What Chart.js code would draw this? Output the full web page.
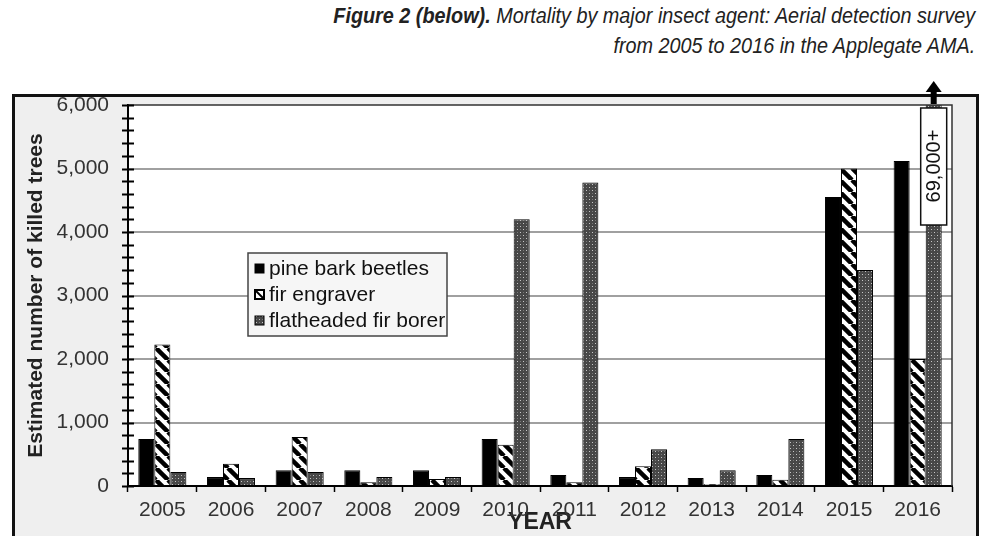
<!DOCTYPE html>
<html lang="en">
<head>
<meta charset="UTF-8" />
<title>Mortality by major insect agent</title>
<script src="https://cdn.jsdelivr.net/npm/chart.js@4.4.0/dist/chart.umd.min.js"></script>
<style>
  body { margin: 0; width: 1005px; height: 536px; overflow: hidden; position: relative; background: #fff; }
  #caption { position: absolute; right: 30px; top: 1px; text-align: right; color: #222;
    font-family: "Liberation Sans", sans-serif; font-style: italic;
    font-size: 22px; line-height: 30px; transform: scaleX(0.9); transform-origin: right top; }
  #caption b { font-weight: bold; }
  #frame { position: absolute; left: 12px; top: 94px; width: 961px; height: 460px;
    border: 3px solid #111; background: #efefef; }
  #chart { position: absolute; left: 0; top: 0; }
</style>
</head>
<body>
<div id="caption"><b>Figure 2 (below).</b> Mortality by major insect agent: Aerial detection survey<br>from 2005 to 2016 in the Applegate AMA.</div>
<div id="frame"></div>
<canvas id="chart" width="1005" height="536"></canvas>
<script>
const years = ['2005','2006','2007','2008','2009','2010','2011','2012','2013','2014','2015','2016'];
const pineBarkBeetles = [740, 140, 250, 250, 250, 740, 175, 140, 125, 175, 4550, 5120];
const firEngraver     = [2230, 350, 770, 60, 110, 650, 60, 310, 30, 100, 5000, 2000];
const flatheadedBorer = [220, 125, 220, 140, 140, 4200, 4780, 580, 250, 740, 3400, 69000];
const seriesNames = ['pine bark beetles', 'fir engraver', 'flatheaded fir borer'];

// fill patterns
function hatch() {
  const c = document.createElement('canvas');
  c.width = 12; c.height = 12;
  const g = c.getContext('2d');
  g.fillStyle = '#fff'; g.fillRect(0, 0, 12, 12);
  g.strokeStyle = '#000'; g.lineWidth = 4.5;
  for (let k = -12; k <= 24; k += 12) {
    g.beginPath(); g.moveTo(k, 0); g.lineTo(k + 12, 12); g.stroke();
  }
  return g.createPattern(c, 'repeat');
}
function stipple() {
  const c = document.createElement('canvas');
  c.width = 6; c.height = 6;
  const g = c.getContext('2d');
  g.fillStyle = '#474747'; g.fillRect(0, 0, 6, 6);
  g.fillStyle = '#c8c8c8'; g.fillRect(1, 1, 1, 1); g.fillRect(4, 4, 1, 1);
  g.fillStyle = '#777'; g.fillRect(4, 1, 1, 1); g.fillRect(1, 4, 1, 1);
  return g.createPattern(c, 'repeat');
}
const fills = ['#000', hatch(), stipple()];

const plotDeco = {
  id: 'plotDeco',
  beforeDraw(chart) {
    const a = chart.chartArea, ctx = chart.ctx;
    ctx.save();
    ctx.fillStyle = '#fff';
    ctx.fillRect(a.left, a.top, a.right - a.left, a.bottom - a.top);
    ctx.restore();
  },
  afterDraw(chart) {
    const a = chart.chartArea, ctx = chart.ctx, y = chart.scales.y;
    ctx.save();
    // top and right border of the plot
    ctx.strokeStyle = '#333'; ctx.lineWidth = 1.5;
    ctx.beginPath(); ctx.moveTo(a.left, a.top); ctx.lineTo(a.right, a.top); ctx.lineTo(a.right, a.bottom); ctx.stroke();
    // ticks crossing the y axis
    ctx.strokeStyle = '#000'; ctx.lineWidth = 2;
    y.ticks.forEach(t => {
      const py = Math.round(y.getPixelForValue(t.value)) + 0.5;
      ctx.beginPath(); ctx.moveTo(a.left - 6, py); ctx.lineTo(a.left + 6, py); ctx.stroke();
    });

    // 69,000+ label and arrow on the 2016 borer bar
    const bar = chart.getDatasetMeta(2).data[11];
    const bx = bar.x;
    ctx.fillStyle = '#fff'; ctx.strokeStyle = '#111'; ctx.lineWidth = 1.5;
    ctx.fillRect(bx - 13, a.top + 3, 26, 117);
    ctx.strokeRect(bx - 13, a.top + 3, 26, 117);
    ctx.save();
    ctx.translate(bx, a.top + 61);
    ctx.rotate(-Math.PI / 2);
    ctx.fillStyle = '#111';
    ctx.font = '20px "Liberation Sans", Arial, sans-serif';
    ctx.textAlign = 'center'; ctx.textBaseline = 'middle';
    ctx.fillText('69,000+', 0, 1);
    ctx.restore();
    ctx.fillStyle = '#000';
    ctx.fillRect(bx - 3, a.top - 14, 6, 13);
    ctx.beginPath();
    ctx.moveTo(bx - 8, a.top - 13); ctx.lineTo(bx + 8, a.top - 13); ctx.lineTo(bx, a.top - 24);
    ctx.closePath(); ctx.fill();

    // legend box
    const lx = 248, ly = 253;
    ctx.fillStyle = '#f6f6f6'; ctx.strokeStyle = '#444'; ctx.lineWidth = 1.5;
    ctx.fillRect(lx, ly, 199, 83);
    ctx.strokeRect(lx, ly, 199, 83);
    ctx.font = '21px "Liberation Sans", Arial, sans-serif';
    ctx.textBaseline = 'middle'; ctx.textAlign = 'left';
    chart.data.datasets.forEach((ds, i) => {
      const cy = ly + 15 + i * 26;
      ctx.fillStyle = i === 1 ? '#fff' : ds.backgroundColor;
      ctx.fillRect(lx + 7, cy - 4, 9, 9);
      ctx.strokeStyle = '#000'; ctx.lineWidth = i === 1 ? 2 : 1;
      ctx.strokeRect(lx + 7, cy - 4, 9, 9);
      if (i === 1) {
        ctx.beginPath(); ctx.moveTo(lx + 8, cy - 3); ctx.lineTo(lx + 15, cy + 4); ctx.stroke();
      }
      ctx.fillStyle = '#111';
      ctx.fillText(ds.label, lx + 21, cy + 1);
    });
    ctx.restore();
  }
};

new Chart(document.getElementById('chart'), {
  type: 'bar',
  data: {
    labels: years,
    datasets: [
      { label: seriesNames[0], data: pineBarkBeetles, backgroundColor: fills[0] },
      { label: seriesNames[1], data: firEngraver, backgroundColor: fills[1] },
      { label: seriesNames[2], data: flatheadedBorer, backgroundColor: fills[2] }
    ].map(d => Object.assign(d, { borderColor: '#000', borderWidth: 1, categoryPercentage: 0.7, barPercentage: 1.0 }))
  },
  options: {
    responsive: false,
    animation: false,
    layout: { padding: { top: 105, right: 53, bottom: 0, left: 0 } },
    plugins: { legend: { display: false }, tooltip: { enabled: false } },
    scales: {
      x: {
        afterFit(s) { s.height = 50; },
        grid: { offset: true, drawOnChartArea: false, tickColor: '#000', tickLength: 6, tickWidth: 1.5 },
        border: { color: '#000', width: 2 },
        ticks: { color: '#333', padding: 6, font: { family: '"Liberation Sans", Arial, sans-serif', size: 21 } },
        title: { display: true, text: 'YEAR', color: '#222', padding: { top: 0, bottom: 0 },
          font: { family: '"Liberation Sans", Arial, sans-serif', size: 23, weight: 'bold' } }
      },
      y: {
        min: 0, max: 6000,
        afterFit(s) { s.width = 128; },
        grid: {
          drawTicks: false,
          lineWidth: 2,
          color: c => (c.tick && c.tick.value % 1000 === 0 && c.tick.value > 0 && c.tick.value < 6000) ? '#a0a0a0' : 'transparent'
        },
        border: { color: '#000', width: 2 },
        ticks: {
          stepSize: 200, autoSkip: false, padding: 19, color: '#333',
          font: { family: '"Liberation Sans", Arial, sans-serif', size: 21 },
          callback: v => v % 1000 === 0 ? v.toLocaleString('en-US') : ''
        },
        title: { display: true, text: 'Estimated number of killed trees', color: '#222', padding: { top: 24, bottom: 0 },
          font: { family: '"Liberation Sans", Arial, sans-serif', size: 21, weight: 'bold' } }
      }
    }
  },
  plugins: [plotDeco]
});
</script>
</body>
</html>
